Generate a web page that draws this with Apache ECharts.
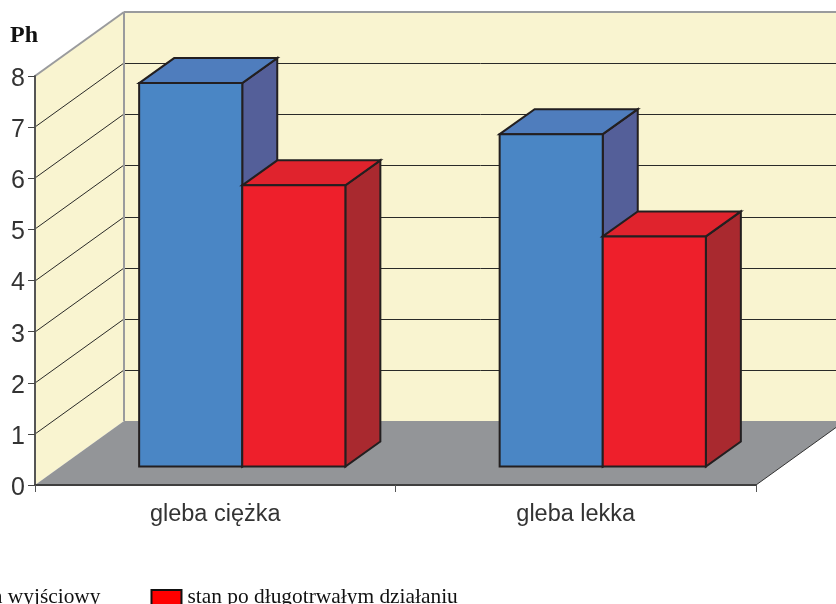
<!DOCTYPE html>
<html>
<head>
<meta charset="utf-8">
<style>html,body{margin:0;padding:0;background:#fff;overflow:hidden}#chart{width:836px;height:604px}</style>
<script src="https://cdn.jsdelivr.net/npm/echarts@6/dist/echarts.min.js"></script>
</head>
<body>
<div id="chart"></div>
<script>
const categories = ['gleba ciężka', 'gleba lekka'];
const initialState = [7.5, 6.5];
const afterExposure = [5.5, 4.5];
const yTicks = [1, 2, 3, 4, 5, 6, 7];

const outline = '#231f20';
const wallDepth = [89, -64];
const barDepth = [35, -25];
const floorShift = [27, -18.5];
const barShare = 0.286;

function poly(points, fill, stroke, width) {
  return {
    type: 'polygon',
    shape: { points: points },
    style: { fill: fill, stroke: stroke || null, lineWidth: width || 0, lineJoin: 'miter' }
  };
}
function line(x1, y1, x2, y2, color, width) {
  return {
    type: 'line',
    shape: { x1: x1, y1: y1, x2: x2, y2: y2 },
    style: { stroke: color, lineWidth: width, fill: null }
  };
}

// Back wall, side wall, floor and the grid lines running across the walls.
function renderRoom(params, api) {
  const sys = params.coordSys;
  const dx = wallDepth[0], dy = wallDepth[1];
  const left = sys.x, right = sys.x + sys.width;
  const top = sys.y, bottom = sys.y + sys.height;
  const wall = '#f9f4d0', edge = '#9a9b9d';
  const children = [
    poly([[left + dx, top + dy], [right + dx, top + dy], [right + dx, bottom + dy], [left + dx, bottom + dy]], wall),
    poly([[left, top], [left + dx, top + dy], [left + dx, bottom + dy], [left, bottom]], wall),
    poly([[left, bottom], [left + dx, bottom + dy], [right + dx, bottom + dy], [right, bottom]], '#939598')
  ];
  yTicks.forEach(function (v) {
    const y = Math.round(api.coord([0, v])[1]);
    children.push(line(left, y, left + dx, y + dy, '#2a2a28', 1));
    children.push(line(left + dx, y + dy + 0.5, right + dx, y + dy + 0.5, '#2a2a28', 1));
  });
  children.push(line(left, top, left + dx, top + dy, edge, 2));
  children.push(line(left + dx, top + dy, right + dx, top + dy, edge, 2));
  children.push(line(left + dx, top + dy, left + dx, bottom + dy, edge, 2));
  children.push(line(right, bottom, right + dx, bottom + dy, '#333', 1));
  return { type: 'group', children: children };
}

// One extruded bar: front face, top face and right-hand side face.
function barRenderer(slot, front, topFace, sideFace) {
  return function (params, api) {
    const i = api.value(0);
    const value = api.value(1);
    const width = api.size([1, 0])[0] * barShare;
    const centre = api.coord([i, 0])[0] + floorShift[0];
    const x0 = centre + slot * width, x1 = x0 + width;
    const yBase = api.coord([i, 0])[1] + floorShift[1];
    const yTop = api.coord([i, value])[1] + floorShift[1];
    const bx = barDepth[0], by = barDepth[1];
    return {
      type: 'group',
      children: [
        poly([[x1, yTop], [x1 + bx, yTop + by], [x1 + bx, yBase + by], [x1, yBase]], sideFace, outline, 2),
        poly([[x0, yTop], [x0 + bx, yTop + by], [x1 + bx, yTop + by], [x1, yTop]], topFace, outline, 2),
        poly([[x0, yTop], [x1, yTop], [x1, yBase], [x0, yBase]], front, outline, 2)
      ]
    };
  };
}

const chart = echarts.init(document.getElementById('chart'), null, { renderer: 'canvas' });
chart.setOption({
  animation: false,
  backgroundColor: '#ffffff',
  grid: { left: 35, right: 80, top: 76, bottom: 119 },
  legend: {
    left: -69,
    top: 587,
    icon: 'rect',
    itemWidth: 30,
    itemHeight: 15,
    itemGap: 50,
    padding: 0,
    data: ['stan wyjściowy', 'stan po długotrwałym działaniu'],
    textStyle: { fontFamily: '"Liberation Serif"', fontSize: 21.4, color: '#111', padding: [0, 0, 0, 1] }
  },
  xAxis: {
    type: 'category',
    data: categories,
    z: 5,
    axisLine: { lineStyle: { color: '#3f3f3f', width: 2 } },
    axisTick: { show: true, alignWithLabel: false, length: 7, lineStyle: { color: '#555', width: 1 } },
    axisLabel: { fontFamily: '"Liberation Sans"', fontSize: 23.5, color: '#333', margin: 18 }
  },
  yAxis: {
    type: 'value',
    min: 0,
    max: 8,
    interval: 1,
    z: 5,
    name: 'Ph',
    nameLocation: 'end',
    nameGap: 28,
    nameTextStyle: { fontFamily: '"Liberation Serif"', fontWeight: 'bold', fontSize: 24, color: '#111', align: 'right', padding: [0, -3, 0, 0] },
    splitLine: { show: false },
    axisLine: { show: true, lineStyle: { color: '#555', width: 2 } },
    axisTick: { show: true, length: 7, lineStyle: { color: '#444', width: 1 } },
    axisLabel: { fontFamily: '"Liberation Sans"', fontSize: 25, color: '#333', margin: 10, verticalAlign: 'top', lineHeight: 6 }
  },
  series: [
    {
      name: 'room',
      type: 'custom',
      z: -1,
      silent: true,
      renderItem: renderRoom,
      data: [[0, 0]],
      encode: { x: 0, y: 1 }
    },
    {
      name: 'stan wyjściowy',
      type: 'custom',
      z: 3,
      itemStyle: { color: '#4a86c5', borderColor: '#111', borderWidth: 1.5 },
      renderItem: barRenderer(-1, '#4a86c5', '#4f7dbd', '#545f99'),
      data: initialState.map(function (v, i) { return [i, v]; }),
      encode: { x: 0, y: 1 }
    },
    {
      name: 'stan po długotrwałym działaniu',
      type: 'custom',
      z: 4,
      itemStyle: { color: '#ff0000', borderColor: '#111', borderWidth: 1.5 },
      renderItem: barRenderer(0, '#ee1f2b', '#e0232d', '#a9292f'),
      data: afterExposure.map(function (v, i) { return [i, v]; }),
      encode: { x: 0, y: 1 }
    }
  ]
});
</script>
</body>
</html>
